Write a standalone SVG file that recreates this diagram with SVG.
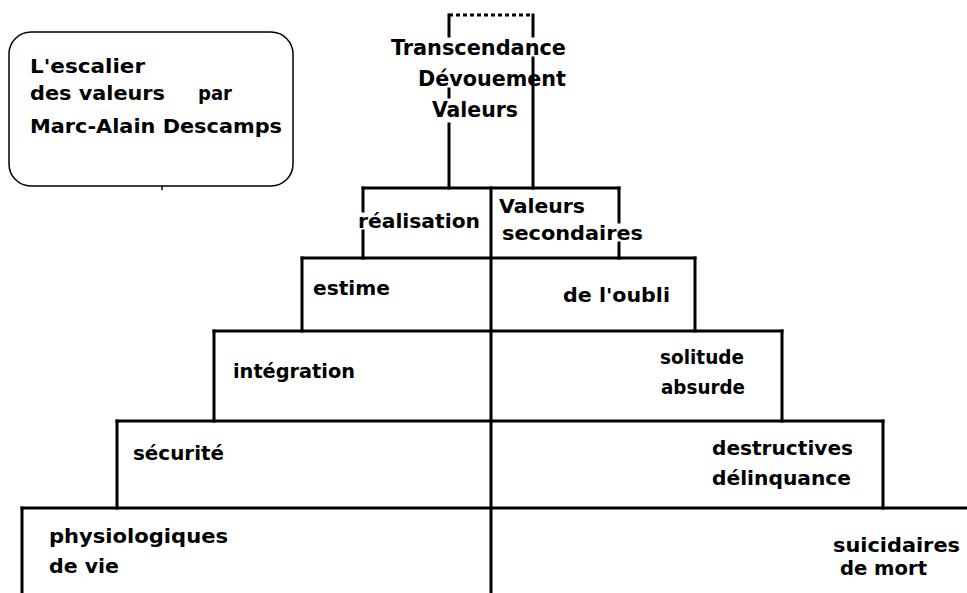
<svg xmlns="http://www.w3.org/2000/svg" width="967" height="593" viewBox="0 0 967 593">
<style>
.ln{stroke:#000;stroke-width:3;fill:none;stroke-linecap:square}
.dash{stroke:#000;stroke-width:3;fill:none;stroke-dasharray:4 3}
.t{font-family:"DejaVu Sans","Liberation Sans",sans-serif;font-weight:bold;font-size:20px;fill:#000}
.tt{font-family:"DejaVu Sans Condensed","DejaVu Sans",sans-serif;font-weight:bold;font-size:22px;fill:#000}
</style>
<rect width="967" height="593" fill="#fff"/>
<g id="title">
<rect x="9" y="32" width="284" height="154" rx="22" ry="22" fill="none" stroke="#000" stroke-width="1.5"/>
<line x1="162" y1="186" x2="162" y2="190" stroke="#000" stroke-width="1.5"/>
<text class="t" x="30" y="73" textLength="115" lengthAdjust="spacingAndGlyphs">L'escalier</text>
<text class="t" x="30" y="100" textLength="135" lengthAdjust="spacingAndGlyphs">des valeurs</text>
<text class="t" x="198" y="100" textLength="34" lengthAdjust="spacingAndGlyphs">par</text>
<text class="t" x="30" y="133" textLength="252" lengthAdjust="spacingAndGlyphs">Marc-Alain Descamps</text>
</g>
<g id="transcendance">
<line class="dash" x1="449" y1="15" x2="533" y2="15"/>
<line class="ln" x1="449" y1="15" x2="449" y2="36"/>
<line class="ln" x1="449" y1="89" x2="449" y2="97"/>
<line class="ln" x1="449" y1="124" x2="449" y2="188"/>
<line class="ln" x1="533" y1="15" x2="533" y2="36"/>
<line class="ln" x1="533" y1="58" x2="533" y2="188"/>
<text class="tt" x="391" y="55" textLength="175" lengthAdjust="spacingAndGlyphs">Transcendance</text>
<text class="tt" x="418" y="86" textLength="148" lengthAdjust="spacingAndGlyphs">Dévouement</text>
<text class="tt" x="432" y="117" textLength="86" lengthAdjust="spacingAndGlyphs">Valeurs</text>
</g>
<g id="center">
<line class="ln" x1="491" y1="188" x2="491" y2="593"/>
</g>
<g id="level1">
<line class="ln" x1="363" y1="188" x2="619" y2="188"/>
<line class="ln" x1="363" y1="188" x2="363" y2="211"/>
<line class="ln" x1="363" y1="231" x2="363" y2="258"/>
<line class="ln" x1="619" y1="188" x2="619" y2="222"/>
<line class="ln" x1="619" y1="243" x2="619" y2="258"/>
<text class="t" x="358" y="228" textLength="122" lengthAdjust="spacingAndGlyphs">réalisation</text>
<text class="t" x="499" y="213" textLength="86" lengthAdjust="spacingAndGlyphs">Valeurs</text>
<text class="t" x="502" y="240" textLength="141" lengthAdjust="spacingAndGlyphs">secondaires</text>
</g>
<g id="level2">
<line class="ln" x1="302" y1="258" x2="695" y2="258"/>
<line class="ln" x1="302" y1="258" x2="302" y2="331"/>
<line class="ln" x1="695" y1="258" x2="695" y2="331"/>
<text class="t" x="313" y="295" textLength="77" lengthAdjust="spacingAndGlyphs">estime</text>
<text class="t" x="563" y="302" textLength="107" lengthAdjust="spacingAndGlyphs">de l'oubli</text>
</g>
<g id="level3">
<line class="ln" x1="214" y1="331" x2="782" y2="331"/>
<line class="ln" x1="214" y1="331" x2="214" y2="421"/>
<line class="ln" x1="782" y1="331" x2="782" y2="421"/>
<text class="t" x="233" y="378" textLength="122" lengthAdjust="spacingAndGlyphs">intégration</text>
<text class="t" x="660" y="364" textLength="84" lengthAdjust="spacingAndGlyphs">solitude</text>
<text class="t" x="661" y="394" textLength="84" lengthAdjust="spacingAndGlyphs">absurde</text>
</g>
<g id="level4">
<line class="ln" x1="117" y1="421" x2="883" y2="421"/>
<line class="ln" x1="117" y1="421" x2="117" y2="508"/>
<line class="ln" x1="883" y1="421" x2="883" y2="508"/>
<text class="t" x="133" y="460" textLength="91" lengthAdjust="spacingAndGlyphs">sécurité</text>
<text class="t" x="712" y="455" textLength="141" lengthAdjust="spacingAndGlyphs">destructives</text>
<text class="t" x="712" y="485" textLength="139" lengthAdjust="spacingAndGlyphs">délinquance</text>
</g>
<g id="level5">
<line class="ln" x1="22" y1="508" x2="967" y2="508"/>
<line class="ln" x1="22" y1="508" x2="22" y2="593"/>
<text class="t" x="49" y="543" textLength="179" lengthAdjust="spacingAndGlyphs">physiologiques</text>
<text class="t" x="49" y="573" textLength="70" lengthAdjust="spacingAndGlyphs">de vie</text>
<text class="t" x="833" y="552" textLength="127" lengthAdjust="spacingAndGlyphs">suicidaires</text>
<text class="t" x="840" y="575" textLength="87" lengthAdjust="spacingAndGlyphs">de mort</text>
</g>
</svg>
